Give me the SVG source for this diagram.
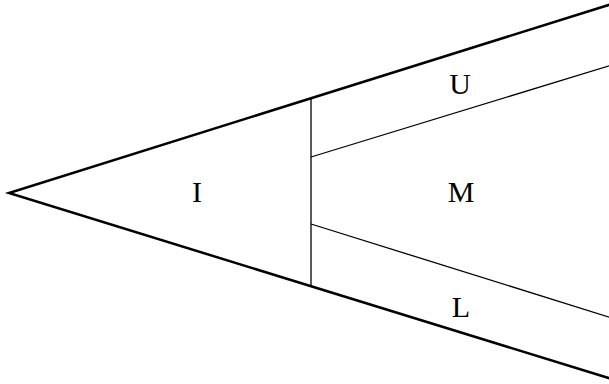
<svg xmlns="http://www.w3.org/2000/svg" width="609" height="384" viewBox="0 0 609 384">
<style>
.outer{stroke:#000;stroke-width:2.5;fill:none;stroke-linecap:round}
.inner{stroke:#000;stroke-width:1.3;fill:none}
.lbl{font-family:"Liberation Serif","Times New Roman",serif;font-size:30px;fill:#000;text-anchor:middle}
</style>
<rect width="609" height="384" fill="#fff"/>
<g id="connectors">
<polyline class="outer" points="615,3 9,193 615,380"/>
<line class="inner" x1="311" y1="99" x2="311" y2="287"/>
<line class="inner" x1="311" y1="157" x2="612" y2="65"/>
<line class="inner" x1="311" y1="224" x2="612" y2="318"/>
</g>
<g id="I"><text class="lbl" x="197" y="202">I</text></g>
<g id="U"><text class="lbl" x="460" y="94">U</text></g>
<g id="M"><text class="lbl" x="461" y="202">M</text></g>
<g id="L"><text class="lbl" x="461" y="317">L</text></g>
</svg>
